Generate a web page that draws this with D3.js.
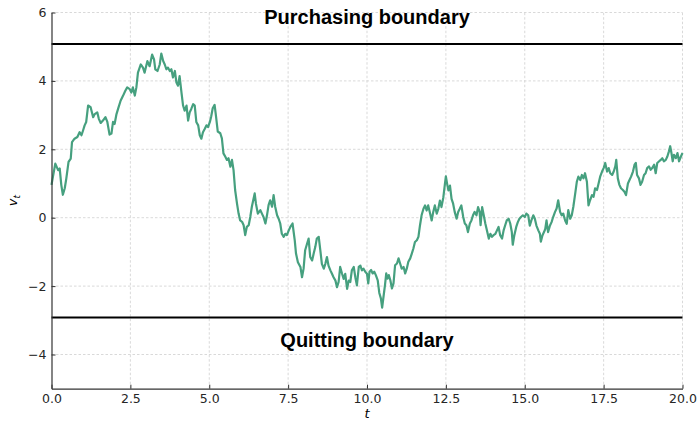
<!DOCTYPE html>
<html>
<head>
<meta charset="utf-8">
<script src="https://cdn.jsdelivr.net/npm/d3@7"></script>
<style>
  body { margin: 0; background: #fff; }
  svg { display: block; }
  .tick text { font-family: "DejaVu Sans", sans-serif; font-size: 12.5px; fill: #262626; }
</style>
</head>
<body>
<div id="app"></div>
<script>
// sample path: time t and value v_t
const tVals = [
  0.00,0.12,0.21,0.26,0.31,0.36,0.42,0.47,0.54,0.61,0.65,0.73,0.82,0.89,0.95,1.00,1.05,1.10,1.16,1.24,
  1.32,1.37,1.45,1.50,1.56,1.63,1.71,1.77,1.84,1.90,1.95,2.00,2.06,2.11,2.19,2.27,2.34,2.40,2.48,2.53,
  2.58,2.64,2.69,2.74,2.83,2.90,2.95,3.04,3.11,3.19,3.25,3.29,3.36,3.43,3.48,3.54,3.59,3.64,3.69,3.75,
  3.80,3.85,3.91,3.96,4.01,4.06,4.12,4.17,4.22,4.28,4.33,4.38,4.43,4.49,4.54,4.59,4.65,4.70,4.75,4.80,
  4.86,4.91,4.96,5.02,5.06,5.11,5.17,5.21,5.27,5.35,5.40,5.45,5.51,5.56,5.61,5.67,5.72,5.77,5.82,5.88,
  5.93,5.98,6.04,6.09,6.14,6.19,6.25,6.30,6.35,6.44,6.48,6.54,6.62,6.67,6.72,6.78,6.83,6.88,6.93,6.99,
  7.04,7.09,7.15,7.20,7.25,7.30,7.36,7.41,7.46,7.52,7.57,7.64,7.71,7.75,7.81,7.89,7.94,7.99,8.04,8.10,
  8.15,8.20,8.26,8.31,8.36,8.41,8.47,8.52,8.57,8.63,8.68,8.73,8.78,8.84,8.89,8.94,9.00,9.05,9.10,9.15,
  9.21,9.26,9.31,9.37,9.42,9.47,9.52,9.58,9.63,9.68,9.74,9.79,9.84,9.89,9.95,10.00,10.04,10.08,10.13,10.18,
  10.23,10.28,10.34,10.39,10.44,10.48,10.53,10.57,10.61,10.65,10.69,10.74,10.79,10.84,10.89,10.95,11.00,11.05,11.10,11.16,
  11.21,11.26,11.31,11.37,11.42,11.47,11.52,11.58,11.63,11.68,11.73,11.79,11.84,11.89,11.94,12.00,12.05,12.10,12.15,12.21,
  12.26,12.31,12.36,12.42,12.47,12.50,12.54,12.58,12.63,12.68,12.73,12.78,12.84,12.89,12.94,12.99,13.05,13.10,13.15,13.20,
  13.26,13.31,13.36,13.41,13.47,13.52,13.57,13.60,13.65,13.70,13.75,13.80,13.86,13.91,13.96,14.01,14.07,14.12,14.17,14.22,
  14.28,14.33,14.38,14.43,14.49,14.54,14.59,14.62,14.67,14.73,14.78,14.83,14.88,14.94,15.00,15.05,15.11,15.16,15.21,15.27,
  15.32,15.37,15.43,15.48,15.51,15.56,15.61,15.65,15.69,15.74,15.80,15.85,15.90,15.96,16.01,16.06,16.12,16.17,16.22,16.28,
  16.33,16.38,16.44,16.49,16.54,16.60,16.65,16.70,16.76,16.81,16.86,16.91,16.97,17.02,17.07,17.13,17.18,17.23,17.29,17.34,
  17.39,17.45,17.50,17.55,17.61,17.66,17.71,17.77,17.82,17.87,17.90,17.95,18.00,18.05,18.11,18.16,18.21,18.27,18.32,18.37,
  18.43,18.48,18.52,18.56,18.62,18.67,18.72,18.78,18.83,18.88,18.94,18.99,19.04,19.10,19.15,19.20,19.26,19.31,19.36,19.41,
  19.47,19.52,19.57,19.61,19.65,19.69,19.73,19.79,19.84,19.89,19.95,20.00
];
const vVals = [
  0.96,1.58,1.39,1.44,0.96,0.67,0.86,1.15,1.63,1.73,2.21,2.31,2.36,2.50,2.41,2.55,2.70,2.80,3.28,3.23,
  2.94,3.03,3.08,2.89,2.77,2.84,2.94,2.80,2.43,2.46,2.80,2.74,3.03,3.18,3.42,3.57,3.71,3.81,3.76,3.66,
  3.81,3.57,3.81,4.24,4.48,4.39,4.24,4.58,4.43,4.77,4.63,4.34,4.29,4.48,4.80,4.58,4.48,4.34,4.39,4.29,
  4.34,4.10,4.29,3.95,3.86,4.14,3.66,3.28,3.13,3.28,2.84,3.08,3.18,3.32,3.28,2.80,2.70,2.41,2.31,2.50,
  2.60,2.70,2.65,2.80,2.95,3.20,3.30,3.00,2.52,2.47,2.32,1.88,1.78,1.69,1.74,1.49,1.69,1.39,0.81,0.41,
  0.12,-0.08,-0.12,-0.22,-0.51,-0.27,-0.22,0.02,0.32,0.71,0.41,0.12,0.22,0.12,0.02,-0.17,0.07,0.37,0.51,0.32,
  0.66,0.32,0.07,-0.03,-0.17,-0.47,-0.56,-0.47,-0.51,-0.37,-0.27,-0.17,-0.66,-1.05,-1.30,-1.44,-1.74,-1.49,-0.95,-0.76,
  -0.61,-1.15,-1.25,-1.05,-0.86,-0.61,-0.56,-0.95,-1.35,-1.49,-1.35,-1.15,-1.40,-1.54,-1.64,-1.74,-1.84,-2.03,-1.88,-1.44,
  -1.64,-1.79,-1.64,-2.08,-1.84,-1.88,-1.54,-1.44,-1.74,-1.98,-1.44,-1.40,-1.54,-1.49,-1.59,-1.64,-1.92,-1.58,-1.53,-1.63,
  -1.58,-1.68,-1.83,-2.20,-2.36,-2.63,-2.26,-1.97,-1.63,-1.78,-1.68,-1.83,-2.07,-1.92,-1.39,-1.34,-1.19,-1.34,-1.49,-1.44,
  -1.63,-1.49,-1.29,-1.19,-1.05,-0.90,-0.71,-0.66,-0.56,-0.22,0.07,0.26,0.36,0.21,0.36,0.12,-0.08,0.17,0.36,0.12,
  0.26,0.50,0.31,0.60,0.99,1.21,0.99,0.80,0.94,0.55,0.41,0.17,-0.03,0.17,0.26,0.36,0.02,-0.17,-0.22,-0.42,
  -0.17,-0.08,0.07,0.17,0.07,0.31,0.17,-0.22,0.31,0.07,-0.17,-0.37,-0.61,-0.47,-0.56,-0.51,-0.47,-0.37,-0.27,-0.51,
  -0.61,-0.37,-0.22,-0.08,-0.03,-0.17,-0.42,-0.79,-0.51,-0.27,-0.13,-0.03,0.02,0.07,0.02,0.12,0.07,-0.23,-0.08,0.07,
  -0.03,-0.23,-0.37,-0.47,-0.70,-0.52,-0.42,-0.33,-0.08,-0.42,-0.23,-0.13,0.02,0.17,0.27,0.51,0.17,0.07,0.12,-0.08,
  -0.18,0.22,-0.03,0.07,0.32,0.71,1.05,1.20,1.10,1.25,1.15,1.30,1.05,0.36,0.51,0.66,0.61,0.86,0.81,1.00,
  1.20,1.35,1.45,1.60,1.35,1.45,1.30,1.25,1.35,1.50,1.69,1.15,0.96,0.86,0.81,0.76,0.66,1.00,1.10,1.20,
  1.35,1.55,1.60,1.25,1.15,0.96,1.05,1.25,1.30,1.45,1.50,1.40,1.45,1.55,1.30,1.60,1.65,1.69,1.74,1.65,
  1.69,1.79,1.94,2.09,1.89,1.65,1.84,1.74,1.89,1.65,1.79,1.89
];

const upperBoundary = 5.08;
const lowerBoundary = -2.92;
const boundaryLabels = ["Purchasing boundary", "Quitting boundary"];

const xTicks = [0, 2.5, 5, 7.5, 10, 12.5, 15, 17.5, 20];
const yTicks = [-4, -2, 0, 2, 4, 6];

const width = 697, height = 421;
const margin = {left: 51.5, right: 14.5, top: 12.5, bottom: 32.3};

const svg = d3.select('#app')
  .append('svg')
  .attr('width', width)
  .attr('height', height);

const x = d3.scaleLinear().domain([0, 20]).range([margin.left, width - margin.right]);
const y = d3.scaleLinear().domain([-5, 6]).range([height - margin.bottom, margin.top]);

// grid
svg.append('g')
  .selectAll('line')
  .data(xTicks.slice(1))
  .enter()
  .append('line')
  .attr('x1', d => x(d)).attr('x2', d => x(d))
  .attr('y1', y(-5)).attr('y2', y(6))
  .attr('stroke', '#cfcfcf').attr('stroke-width', 0.8).attr('stroke-dasharray', '2.5,2');

svg.append('g')
  .selectAll('line')
  .data(yTicks)
  .enter()
  .append('line')
  .attr('x1', x(0)).attr('x2', x(20))
  .attr('y1', d => y(d)).attr('y2', d => y(d))
  .attr('stroke', '#cfcfcf').attr('stroke-width', 0.8).attr('stroke-dasharray', '2.5,2');

// boundaries
svg.selectAll('.bound')
  .data([upperBoundary, lowerBoundary])
  .enter()
  .append('line')
  .attr('class', 'bound')
  .attr('x1', x(0)).attr('x2', x(20))
  .attr('y1', d => y(d)).attr('y2', d => y(d))
  .attr('stroke', '#000').attr('stroke-width', 2);

// walk
const pts = tVals.map((t, i) => [t, vVals[i]]);
svg.append('path')
  .datum(pts)
  .attr('fill', 'none')
  .attr('stroke', '#46a07f')
  .attr('stroke-width', 2.2)
  .attr('stroke-linejoin', 'round')
  .attr('d', d3.line().x(d => x(d[0])).y(d => y(d[1])));

// axes
const xAxis = svg.append('g')
  .attr('transform', `translate(0,${y(-5)})`)
  .call(d3.axisBottom(x).tickValues(xTicks).tickFormat(d3.format('.1f')).tickSizeInner(-4).tickSizeOuter(0).tickPadding(5));

const yAxis = svg.append('g')
  .attr('transform', `translate(${x(0)},0)`)
  .call(d3.axisLeft(y).tickValues(yTicks).tickFormat(d3.format('d')).tickSizeInner(-4).tickSizeOuter(0).tickPadding(5));

[xAxis, yAxis].forEach(g => {
  g.select('.domain').attr('stroke', '#333').attr('stroke-width', 1.2);
  g.selectAll('.tick line').attr('stroke', '#333');
});

// boundary labels
svg.append('text')
  .attr('x', x(10)).attr('y', y(upperBoundary) - 20)
  .attr('text-anchor', 'middle')
  .style('font-family', 'Liberation Sans, Arial, sans-serif')
  .style('font-weight', 'bold').style('font-size', '20px')
  .text(boundaryLabels[0]);

svg.append('text')
  .attr('x', x(10)).attr('y', y(lowerBoundary) + 29)
  .attr('text-anchor', 'middle')
  .style('font-family', 'Liberation Sans, Arial, sans-serif')
  .style('font-weight', 'bold').style('font-size', '20px')
  .text(boundaryLabels[1]);

// axis labels
svg.append('text')
  .attr('x', x(10)).attr('y', height - 3)
  .attr('text-anchor', 'middle')
  .style('font-family', 'DejaVu Sans, sans-serif')
  .style('font-style', 'italic').style('font-size', '13px')
  .text('t');

const yl = svg.append('text')
  .attr('transform', `translate(17,${y(0.5)}) rotate(-90)`)
  .attr('text-anchor', 'middle')
  .style('font-family', 'DejaVu Sans, sans-serif')
  .style('font-style', 'italic').style('font-size', '13px');
yl.append('tspan').text('v');
yl.append('tspan').attr('dy', 3).style('font-size', '9px').text('t');
</script>
</body>
</html>
